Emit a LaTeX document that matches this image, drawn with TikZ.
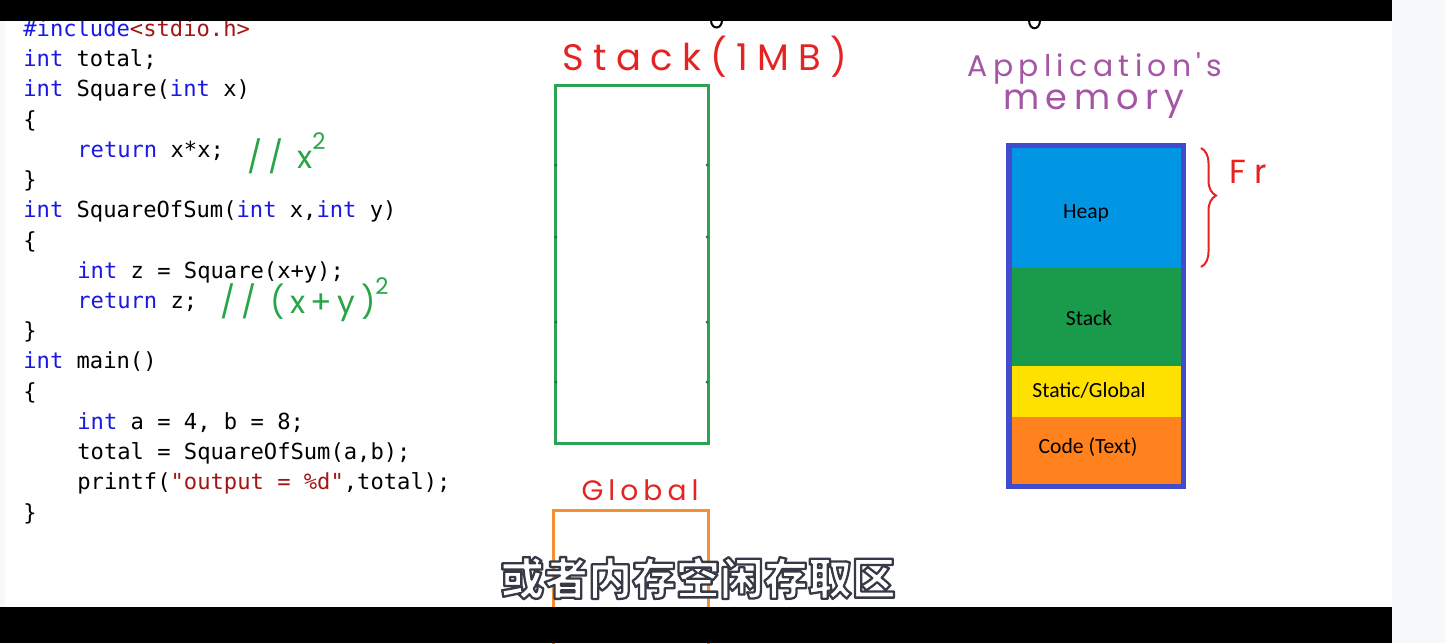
\documentclass[tikz,border=0pt]{standalone}
\usepackage{fontspec}
\usepackage{xcolor}
\usepackage{tikz}
\usetikzlibrary{decorations.pathreplacing}

\newfontfamily\codefont{DejaVu Sans Mono}
\newfontfamily\labelfont{Carlito}
\newfontfamily\handfont[LetterSpace=25]{Poppins}
\newfontfamily\handnarrow[LetterSpace=18]{Poppins}
\newfontfamily\cjkfont{Noto Sans CJK SC}

\definecolor{kwblue}{RGB}{25,25,225}
\definecolor{litred}{RGB}{163,21,21}
\definecolor{stackgreen}{RGB}{45,162,85}
\definecolor{globorange}{RGB}{245,145,50}
\definecolor{handred}{RGB}{230,35,35}
\definecolor{handgreen}{RGB}{40,165,70}
\definecolor{handpurple}{RGB}{165,85,165}
\definecolor{memblue}{RGB}{65,75,205}
\definecolor{heapblue}{RGB}{0,150,228}
\definecolor{stackfill}{RGB}{25,155,75}
\definecolor{staticyel}{RGB}{255,225,0}
\definecolor{codeorange}{RGB}{255,130,30}
\definecolor{sidegray}{RGB}{247,248,250}

\newcommand{\kwd}[1]{\textcolor{kwblue}{#1}}
\newcommand{\lit}[1]{\textcolor{litred}{#1}}
\newcommand{\sq}{\raisebox{1.1ex}{\fontsize{13}{14}\selectfont 2}}
% white letters with a dark edge (fill, then stroke)
\newcommand{\edged}[1]{\special{pdf:code 0.216 0.227 0.275 RG 1.3 w 1 j 2 Tr}#1\special{pdf:code 0 Tr 0.4 w 0 j}}

\begin{document}
\begin{tikzpicture}[x=0.02cm, y=-0.02cm,
        codeline/.style={anchor=base west, inner sep=0pt,
            font=\codefont\fontsize{12.6}{15}\selectfont},
        hand/.style={inner sep=0pt, font=\handfont\fontsize{19}{22}\selectfont},
        memlabel/.style={inner sep=0pt, text=black,
            font=\labelfont\fontsize{12.3}{14}\selectfont}]
    \useasboundingbox (0,0) rectangle (1445,643);
    \fill[white] (0,0) rectangle (1445,643);

    % source code
    \node[codeline] (c1)  at (23,36)  {\kwd{\#include}\lit{<stdio.h>}};
    \node[codeline] (c2)  at (23,66)  {\kwd{int} total;};
    \node[codeline] (c3)  at (23,96)  {\kwd{int} Square(\kwd{int} x)};
    \node[codeline] (c4)  at (23,127) {\{};
    \node[codeline] (c5)  at (77,157) {\kwd{return} x*x;};
    \node[codeline] (c6)  at (23,187) {\}};
    \node[codeline] (c7)  at (23,217) {\kwd{int} SquareOfSum(\kwd{int} x,\kwd{int} y)};
    \node[codeline] (c8)  at (23,248) {\{};
    \node[codeline] (c9)  at (77,278) {\kwd{int} z = Square(x+y);};
    \node[codeline] (c10) at (77,308) {\kwd{return} z;};
    \node[codeline] (c11) at (23,338) {\}};
    \node[codeline] (c12) at (23,368) {\kwd{int} main()};
    \node[codeline] (c13) at (23,399) {\{};
    \node[codeline] (c14) at (77,429) {\kwd{int} a = 4, b = 8;};
    \node[codeline] (c15) at (77,459) {total = SquareOfSum(a,b);};
    \node[codeline] (c16) at (77,489) {printf(\lit{"output = \%d"},total);};
    \node[codeline] (c17) at (23,520) {\}};

    % notes in green
    \node[hand, text=handgreen, anchor=west, font=\handnarrow\fontsize{18}{22}\selectfont]
        (n1) at (247,153) {// x\sq};
    \node[hand, text=handgreen, anchor=west, font=\handnarrow\fontsize{18}{22}\selectfont]
        (n2) at (220,300) {// (x\,+\,y)\sq};

    % stack and global of the program
    \node[hand, text=handred, font=\handfont\fontsize{21}{24}\selectfont] (stacktitle) at (705,57) {Stack(1MB)};
    \draw[stackgreen, line width=0.6mm] (555,85) rectangle (708,443);
    \foreach \y in {165,237,322,382}
        \fill[stackgreen!70!black] (556,\y) circle (0.3mm) (707,\y) circle (0.3mm);
    \node[hand, text=handred, font=\handnarrow\fontsize{16}{20}\selectfont] (globtitle) at (640,490) {Global};
    \draw[globorange, line width=0.6mm] (553,650) -- (553,510) -- (708,510) -- (708,650);

    % application's memory
    \node[hand, text=handpurple, font=\handnarrow\fontsize{17}{22}\selectfont] (apptitle) at (1095,68) {Application's};
    \node[hand, text=handpurple, font=\handnarrow\fontsize{20}{24}\selectfont] (memtitle) at (1094,104) {memory};
    \fill[memblue] (1006,143) rectangle (1186,489);
    \fill[heapblue] (1012,148) rectangle (1181,268);
    \fill[stackfill] (1012,268) rectangle (1181,366);
    \fill[staticyel] (1012,366) rectangle (1181,417);
    \fill[codeorange] (1012,417) rectangle (1181,484);
    \node[memlabel] (heap) at (1086,213) {Heap};
    \node[memlabel] (stack) at (1089,318) {Stack};
    \node[memlabel] (static) at (1089,390) {Static/Global};
    \node[memlabel] (code) at (1088,447) {Code (Text)};

    % brace over the free store
    \coordinate (bt) at (1201,148);
    \coordinate (bb) at (1201,267);
    \draw[handred, line width=0.4mm, decorate,
        decoration={brace, amplitude=3mm, aspect=0.4}] (bt) -- (bb);
    \node[hand, text=handred, anchor=west] (fr) at (1229,172) {Fr};

    % frame of the video
    \fill[sidegray] (0,21) rectangle (5,607);
    \fill[sidegray] (1392,0) rectangle (1445,643);
    \fill[black] (0,0) rectangle (1392,21);
    \fill[black] (0,607) rectangle (1392,643);
    \draw[line width=0.4mm, line cap=round] (711,20) .. controls (711,30) and (722,30) .. (722,20);
    \draw[line width=0.4mm, line cap=round] (1029,20) .. controls (1029,31) and (1040,31) .. (1040,20);

    % subtitle
    \node[inner sep=0pt, text=white, font=\cjkfont\bfseries\fontsize{25}{28}\selectfont] (subtitle) at (698,578)
        {\edged{或者内存空闲存取区}};
\end{tikzpicture}
\end{document}
